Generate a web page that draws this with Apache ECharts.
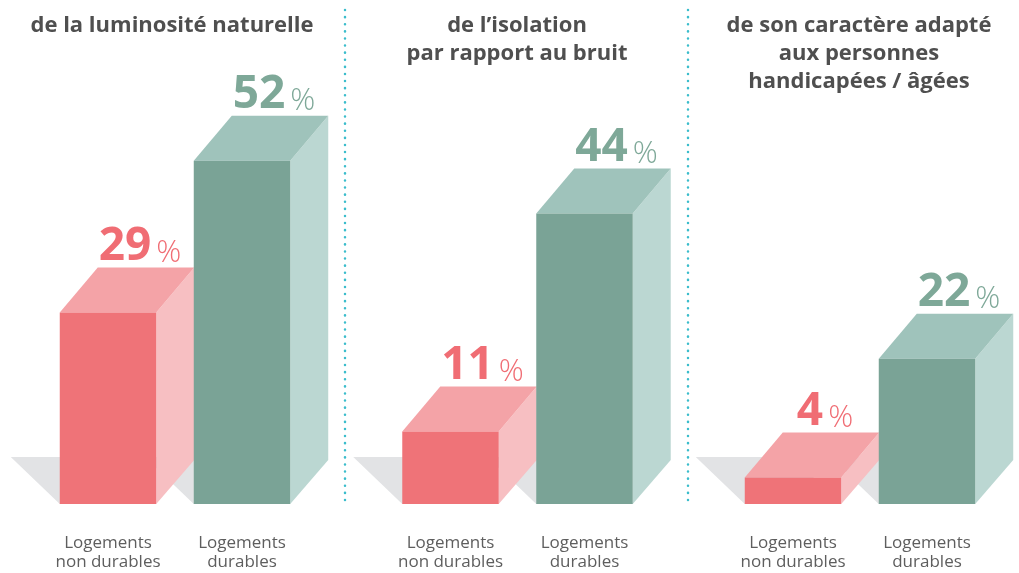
<!DOCTYPE html>
<html>
<head>
<meta charset="utf-8">
<script src="https://cdn.jsdelivr.net/npm/echarts@6/dist/echarts.min.js"></script>
<style>
  html, body { margin: 0; padding: 0; background: #fff; }
  #chart { width: 1019px; height: 573px; }
</style>
</head>
<body>
<div id="chart"></div>
<script>
// données
const titles = [
  'de la luminosité naturelle',
  'de l’isolation\npar rapport au bruit',
  'de son caractère adapté\naux personnes\nhandicapées / âgées'
];
const categories = ['Logements\nnon durables', 'Logements\ndurables'];
const nonDurables = [29, 11, 4];
const durables = [52, 44, 22];

// couleurs des faces (rouge = non durables, vert = durables)
const palette = [
  { front: '#ef7378', top: '#f4a3a7', side: '#f7bfc2', label: '#f06d74' },
  { front: '#7aa396', top: '#9fc3bb', side: '#bbd7d2', label: '#7ea898' }
];
const DX = 38, DY = 45;   // profondeur de la face du dessus
const SX = 49, SY = 47;   // ombre portée
const panelLeft = [41, 383.5, 726];
const panelCenter = [172, 517, 859];

const chart = echarts.init(document.getElementById('chart'));

function barBox(api) {
  const idx = api.value(0);
  const val = api.value(1);
  const base = api.coord([idx, 0]);
  const top = api.coord([idx, val]);
  const w = api.size([1, 0])[0] * 0.72;
  return { idx, val, x0: base[0] - w / 2, x1: base[0] + w / 2, y0: base[1], y1: top[1], w };
}

function renderShadow(params, api) {
  const b = barBox(api);
  return {
    type: 'polygon',
    shape: { points: [[b.x0, b.y0], [b.x0 - SX, b.y0 - SY], [b.x1 - SX, b.y0 - SY], [b.x1, b.y0]] },
    style: { fill: '#e2e3e5' }
  };
}

function renderBar(params, api) {
  const b = barBox(api);
  const c = palette[b.idx];
  return {
    type: 'group',
    children: [
      {
        type: 'polygon',
        shape: { points: [[b.x1, b.y1], [b.x1 + DX, b.y1 - DY], [b.x1 + DX, b.y0 - DY + 1], [b.x1, b.y0]] },
        style: { fill: c.side }
      },
      {
        type: 'polygon',
        shape: { points: [[b.x0, b.y1], [b.x0 + DX, b.y1 - DY], [b.x1 + DX, b.y1 - DY], [b.x1, b.y1]] },
        style: { fill: c.top }
      },
      {
        type: 'rect',
        shape: { x: b.x0, y: b.y1, width: b.w, height: b.y0 - b.y1 },
        style: { fill: c.front }
      },
      {
        type: 'text',
        x: (b.x0 + b.x1) / 2 + DX - 6,
        y: b.y1 - DY + 2,
        style: {
          text: '{n|' + b.val + '}{p|%}',
          align: 'center',
          verticalAlign: 'bottom',
          rich: {
            n: { fontFamily: 'Open Sans', fontWeight: 'bold', fontSize: 46, lineHeight: 46, fill: c.label, padding: [0, 5, 0, 0], verticalAlign: 'bottom' },
            p: { fontFamily: 'Open Sans', fontWeight: 300, fontSize: 31, lineHeight: 46, fill: c.label, verticalAlign: 'bottom', padding: [0, 0, 1, 0] }
          }
        }
      }
    ]
  };
}

const grid = [], xAxis = [], yAxis = [], series = [], graphic = [];
for (let i = 0; i < 3; i++) {
  grid.push({ left: panelLeft[i], width: 268, top: 108, bottom: 69 });
  xAxis.push({
    type: 'category', gridIndex: i, data: categories,
    axisLine: { show: false }, axisTick: { show: false },
    axisLabel: { interval: 0, hideOverlap: false, margin: 30, color: '#5e5e5e', fontFamily: 'Open Sans', fontSize: 17, lineHeight: 19 }
  });
  yAxis.push({ type: 'value', gridIndex: i, min: 0, max: 60, show: false });
  const data = [[0, nonDurables[i]], [1, durables[i]]];
  series.push({
    type: 'custom', xAxisIndex: i, yAxisIndex: i, z: 1,
    renderItem: renderShadow, encode: { x: 0, y: 1 }, data: data, silent: true
  });
  series.push({
    type: 'custom', xAxisIndex: i, yAxisIndex: i, z: 2,
    renderItem: renderBar, encode: { x: 0, y: 1 }, data: data
  });
  graphic.push({
    type: 'text', x: panelCenter[i], y: 12,
    style: {
      text: titles[i], align: 'center', verticalAlign: 'top',
      fontFamily: 'Open Sans', fontWeight: 'bold', fontSize: 22, lineHeight: 28, fill: '#4f4f4f'
    }
  });
}
// séparateurs pointillés
[345, 688].forEach(function (x) {
  graphic.push({
    type: 'line',
    shape: { x1: x, y1: 10, x2: x, y2: 506 },
    style: { stroke: '#3bbdcc', lineWidth: 2.5, lineDash: [0.1, 7], lineCap: 'round' }
  });
});

chart.setOption({
  animation: false,
  grid: grid,
  xAxis: xAxis,
  yAxis: yAxis,
  series: series,
  graphic: graphic
});
</script>
</body>
</html>
